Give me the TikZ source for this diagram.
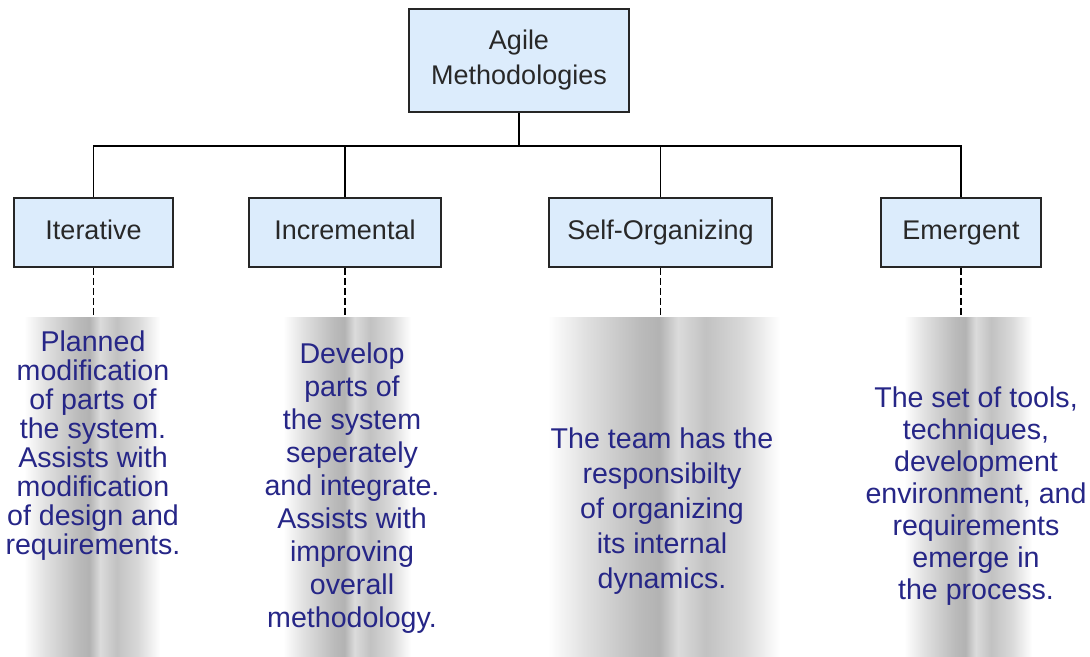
\documentclass[tikz,border=0pt]{standalone}
\usepackage{fontspec}
\setmainfont{Liberation Sans}
\usepackage{tikz}
\usetikzlibrary{positioning}

\definecolor{boxfill}{RGB}{220,236,252}
\definecolor{boxtext}{RGB}{40,40,40}
\definecolor{desctext}{RGB}{38,38,135}
% soft grey column behind each description (only 25bp..75bp is seen)
\pgfdeclarehorizontalshading{colfade}{100bp}{color(0bp)=(white); color(25bp)=(white); color(33bp)=(black!12); color(45bp)=(black!27); color(49bp)=(black!30); color(53bp)=(black!14); color(59bp)=(black!24); color(67bp)=(black!15); color(75bp)=(white); color(100bp)=(white)}

\begin{document}
\begin{tikzpicture}[x=0.5pt,y=-0.5pt,
  catbox/.style={draw=black!85,line width=0.9pt,fill=boxfill,text=boxtext,align=center,font=\fontsize{13.5}{17.5}\selectfont,inner sep=0pt,minimum height=34.5pt},
  cat/.style={catbox,text height=9.8pt,text depth=2.9pt},
  fadecol/.style={shade,shading=colfade,inner sep=0pt,minimum height=170pt},
  desc/.style={text=desctext,align=center,inner sep=0pt},
  link/.style={black,line width=0.9pt},
  dashlink/.style={black,line width=0.8pt,dash pattern=on 3.5pt off 1.5pt}]
\useasboundingbox (0,0) rectangle (1090,657);

% shaded columns
\node[fadecol,minimum width=68pt] (iterCol) at (92,487) {};
\node[fadecol,minimum width=64pt] (incrCol) at (347,487) {};
\node[fadecol,minimum width=116pt] (selforgCol) at (664,487) {};
\node[fadecol,minimum width=64pt] (emerCol) at (968,487) {};

% boxes
\node[catbox,minimum width=110pt,minimum height=51.5pt] (agile) at (519,60.5) {Agile\\Methodologies};
\node[cat,minimum width=79.5pt] (iter) at (93.5,232.5) {Iterative};
\node[cat,minimum width=96pt] (incr) at (345,232.5) {Incremental};
\node[cat,minimum width=111.5pt] (selforg) at (660.5,232.5) {Self-Organizing};
\node[cat,minimum width=80pt] (emer) at (961,232.5) {Emergent};

% tree
\coordinate (bus) at (0,146);
\draw[link] (agile.south) -- (agile.south |- bus);
\draw[link] (iter.north) |- (emer.north |- bus) -- (emer.north);
\draw[link] (incr.north) -- (incr.north |- bus);
\draw[link] (selforg.north) -- (selforg.north |- bus);

\draw[dashlink] (iter.south) -- (iter.south |- iterCol.north);
\draw[dashlink] (incr.south) -- (incr.south |- incrCol.north);
\draw[dashlink] (selforg.south) -- (selforg.south |- selforgCol.north);
\draw[dashlink] (emer.south) -- (emer.south |- emerCol.north);

% descriptions
\node[desc,font=\fontsize{14.3}{14.5}\selectfont] (iterTxt) at (93,446) {Planned\\modification\\of parts of\\the system.\\Assists with\\modification\\of design and\\requirements.};
\node[desc,font=\fontsize{14.3}{16.5}\selectfont] (incrTxt) at (352,488) {Develop\\parts of\\the system\\seperately\\and integrate.\\Assists with\\improving\\overall\\methodology.};
\node[desc,font=\fontsize{14.3}{17.5}\selectfont] (selforgTxt) at (662,511) {The team has the\\responsibilty\\of organizing\\its internal\\dynamics.};
\node[desc,font=\fontsize{14.3}{16}\selectfont] (emerTxt) at (976,496) {The set of tools,\\techniques,\\development\\environment, and\\requirements\\emerge in\\the process.};
\end{tikzpicture}
\end{document}
